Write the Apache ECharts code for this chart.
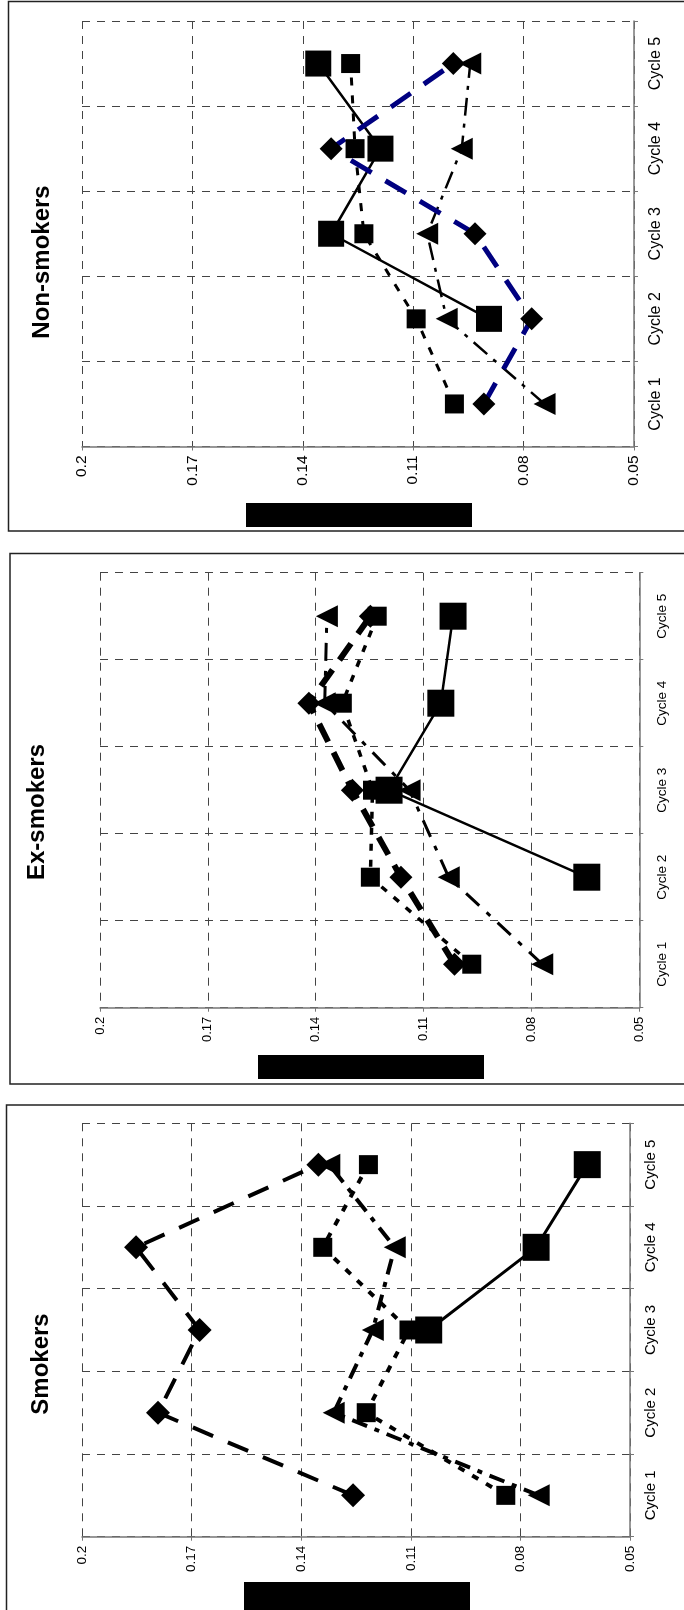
<!DOCTYPE html>
<html>
<head>
<meta charset="utf-8">
<title>Cycles by smoking status</title>
<script src="https://cdn.jsdelivr.net/npm/echarts@6.0.0/dist/echarts.min.js"></script>
<style>
    html, body { margin: 0; padding: 0; background: #fff; }
    #cyclesChart { width: 684px; height: 1610px; }
</style>
</head>
<body>
<div id="cyclesChart"></div>
<script>
// ---- data ----
var categories = ['Cycle 1', 'Cycle 2', 'Cycle 3', 'Cycle 4', 'Cycle 5'];
var valueTicks = [0.05, 0.08, 0.11, 0.14, 0.17, 0.2];
var panelTitles = ['Non-smokers', 'Ex-smokers', 'Smokers'];

var nonSmokersBigSquare   = [null, 0.0894, 0.1323, 0.1189, 0.1358];
var nonSmokersSmallSquare = [0.0988, 0.1092, 0.1234, 0.1258, 0.1270];
var nonSmokersTriangle    = [0.0743, 0.1009, 0.1062, 0.0968, 0.0945];
var nonSmokersDiamond     = [0.0908, 0.0778, 0.0932, 0.1323, 0.0991];

var exSmokersBigSquare    = [null, 0.0646, 0.1196, 0.1052, 0.1018];
var exSmokersSmallSquare  = [0.0966, 0.1248, 0.1242, 0.1326, 0.1229];
var exSmokersTriangle     = [0.0770, 0.1030, 0.1139, 0.1375, 0.1369];
var exSmokersDiamond      = [0.1014, 0.1163, 0.1298, 0.1419, 0.1248];

var smokersBigSquare      = [null, null, 0.1051, 0.0757, 0.0617];
var smokersSmallSquare    = [0.0840, 0.1222, 0.1105, 0.1341, 0.1216];
var smokersTriangle       = [0.0750, 0.1311, 0.1204, 0.1144, 0.1323];
var smokersDiamond        = [0.1258, 0.1792, 0.1678, 0.1852, 0.1353];

var FONT = "'Liberation Sans', Arial, sans-serif";
var chart, option;

// each panel is the original chart turned a quarter turn to the left
var panels = [
    {grid: {left: 82, top: 21, width: 552, height: 425.5}, tickFont: 15.5, catFont: 16, tickMargin: 9, catMargin: 14,
     title: {x: 42, y: 262}, border: {x: 8.5, y: 1.5, h: 529.5}, block: {x: 246, y: 503, w: 226, h: 24}},
    {grid: {left: 100, top: 572.7, width: 539.3, height: 435}, tickFont: 13, catFont: 13.5, tickMargin: 9, catMargin: 16,
     title: {x: 37, y: 812}, border: {x: 10, y: 553.5, h: 530.5}, block: {x: 258, y: 1055, w: 226, h: 24}},
    {grid: {left: 82, top: 1123.3, width: 548, height: 413.4}, tickFont: 13.5, catFont: 15, tickMargin: 9, catMargin: 13,
     title: {x: 41, y: 1364}, border: {x: 6.5, y: 1105, h: 520}, block: {x: 244, y: 1582, w: 226, h: 40}}
];

var panelSeries = [
    [
        {data: nonSmokersBigSquare, symbol: 'rect', size: 26, width: 2.5, type: 'solid', color: '#000'},
        {data: nonSmokersSmallSquare, symbol: 'rect', size: 19, width: 3, type: [8, 10], color: '#000'},
        {data: nonSmokersTriangle, symbol: 'triangle', size: 22, width: 2.5, type: [18, 8, 4, 8], color: '#000'},
        {data: nonSmokersDiamond, symbol: 'diamond', size: 23, width: 5, type: [24, 16], color: '#000080'}
    ],
    [
        {data: exSmokersBigSquare, symbol: 'rect', size: 27, width: 2.5, type: 'solid', color: '#000'},
        {data: exSmokersSmallSquare, symbol: 'rect', size: 19, width: 3.5, type: [7, 9], color: '#000'},
        {data: exSmokersTriangle, symbol: 'triangle', size: 22, width: 3, type: [18, 10, 5, 10], color: '#000'},
        {data: exSmokersDiamond, symbol: 'diamond', size: 23, width: 6, type: [20, 12], color: '#000'}
    ],
    [
        {data: smokersBigSquare, symbol: 'rect', size: 27, width: 3, type: 'solid', color: '#000'},
        {data: smokersSmallSquare, symbol: 'rect', size: 19, width: 4, type: [7, 9], color: '#000'},
        {data: smokersTriangle, symbol: 'triangle', size: 22, width: 4, type: [16, 8, 5, 8], color: '#000'},
        {data: smokersDiamond, symbol: 'diamond', size: 24, width: 4, type: [22, 16], color: '#000'}
    ]
];

initChart();

function initChart() {
    chart = echarts.init(document.getElementById('cyclesChart'), null, {renderer: 'canvas'});

    var grids = [], xAxes = [], yAxes = [], series = [], graphics = [];
    var dashed = {type: [8, 7], color: '#444', width: 1};

    panels.forEach(function (p, i) {
        grids.push(p.grid);

        xAxes.push({
            gridIndex: i,
            type: 'value',
            min: 0.05,
            max: 0.2,
            inverse: true,
            axisLine: {show: true, lineStyle: {color: '#777', width: 1.5}},
            axisTick: {show: true, length: 4, customValues: valueTicks, lineStyle: {color: '#777'}},
            axisLabel: {rotate: 90, customValues: valueTicks, fontSize: p.tickFont, fontFamily: FONT,
                        color: '#000', margin: p.tickMargin},
            splitLine: {show: true, lineStyle: dashed}
        });

        yAxes.push({
            gridIndex: i,
            type: 'category',
            data: categories,
            position: 'right',
            boundaryGap: true,
            axisLine: {show: true, lineStyle: {color: '#777', width: 1.5}},
            axisTick: {show: true, length: 4, lineStyle: {color: '#777'}},
            axisLabel: {rotate: 90, fontSize: p.catFont, fontFamily: FONT, color: '#000', margin: p.catMargin},
            splitLine: {show: true, lineStyle: dashed}
        });

        panelSeries[i].forEach(function (s) {
            var points = [];
            s.data.forEach(function (v, k) {
                if (v !== null) points.push([v, categories[k]]);
            });
            series.push({
                type: 'line',
                xAxisIndex: i,
                yAxisIndex: i,
                data: points,
                symbol: s.symbol,
                symbolSize: s.size,
                symbolRotate: s.symbol === 'triangle' ? 90 : 0,
                showAllSymbol: true,
                animation: false,
                itemStyle: {color: '#000', opacity: 1},
                lineStyle: {color: s.color, width: s.width, type: s.type, cap: 'butt'},
                emphasis: {disabled: true}
            });
        });

        // panel frame
        graphics.push({
            type: 'rect',
            shape: {x: p.border.x, y: p.border.y, width: 720, height: p.border.h},
            style: {fill: null, stroke: '#222', lineWidth: 1.5},
            silent: true
        });
        // panel title, turned with the chart
        graphics.push({
            type: 'text',
            x: p.title.x,
            y: p.title.y,
            rotation: Math.PI / 2,
            style: {text: panelTitles[i], font: 'bold 24px ' + FONT, fill: '#000',
                    textAlign: 'center', textVerticalAlign: 'middle'},
            silent: true
        });
        // blacked-out axis title
        graphics.push({
            type: 'rect',
            shape: {x: p.block.x, y: p.block.y, width: p.block.w, height: p.block.h},
            style: {fill: '#000'},
            silent: true
        });
    });

    option = {
        animation: false,
        backgroundColor: '#fff',
        grid: grids,
        xAxis: xAxes,
        yAxis: yAxes,
        series: series,
        graphic: graphics
    };
    chart.setOption(option);
}
</script>
</body>
</html>
